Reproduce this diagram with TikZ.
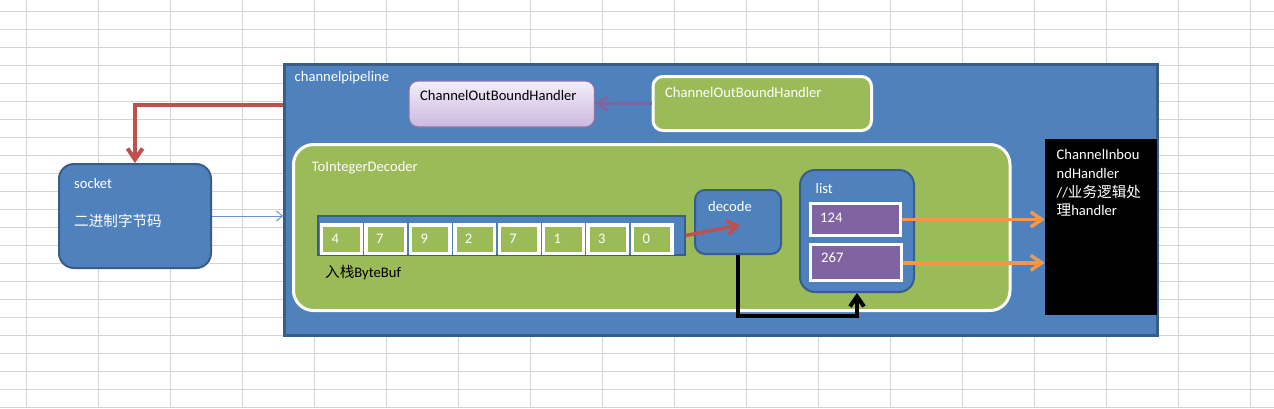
\documentclass[tikz,border=0pt]{standalone}
\usepackage{fontspec}
\setmainfont{Carlito}
\newfontfamily\cjk{Noto Sans CJK SC}
\usepackage{xcolor}
\usepackage{tikz}
\usetikzlibrary{arrows.meta}

\definecolor{pipeblue}{HTML}{4F81BD}
\definecolor{pipeedge}{HTML}{385D8A}
\definecolor{leafgreen}{HTML}{9BBB59}
\definecolor{bufpurple}{HTML}{8064A2}
\definecolor{outred}{HTML}{C0504D}
\definecolor{inorange}{HTML}{F79646}
\definecolor{lavtop}{HTML}{F3EEF8}
\definecolor{lavbot}{HTML}{CCB8E0}
\definecolor{lavedge}{HTML}{8A73AA}
\definecolor{gridgray}{HTML}{D4D4D4}
\definecolor{thinblue}{HTML}{6C95CB}

\tikzset{
	gridline/.style={gridgray, line width=1pt},
	bluebox/.style={draw=pipeedge, line width=2pt, fill=pipeblue, inner sep=0pt},
	greenbox/.style={draw=white, line width=3pt, fill=leafgreen, inner sep=0pt},
	cellbox/.style={draw=white, line width=3.3pt, fill=leafgreen, minimum width=39.6pt, minimum height=28.3pt,
		text width=19.6pt, inner xsep=10pt, inner ysep=0pt, align=left, text=white},
	listcell/.style={draw=white, line width=3pt, fill=bufpurple, inner sep=0pt},
	lbl/.style={anchor=base west, inner sep=0pt, text=white},
	barb/.style 2 args={-{Straight Barb[length=#1, width=#2]}},
}

\begin{document}
\begin{tikzpicture}[x=1pt, y=-1pt, font=\fontsize{14.6pt}{18.7pt}\selectfont]
		\fill[white] (0,0) rectangle (1274,408);
		\useasboundingbox (0,0) rectangle (1274,408);
		% sheet grid
		\foreach \x in {0,...,17}{
			\draw[gridline] (26.7+72*\x,0) -- (26.7+72*\x,408);
		}
		\foreach \y in {0,...,22}{
			\draw[gridline] (0,11.3+18*\y) -- (1274,11.3+18*\y);
		}
		
		\node[bluebox, rounded corners=15pt, minimum width=152pt, minimum height=104pt] (socket) at (135,216) {};
		\node[bluebox, line width=2.6pt, minimum width=873pt, minimum height=271pt] (pipe) at (721,200) {};
		
		\node[draw=lavedge, line width=1.2pt, top color=lavtop, bottom color=lavbot, rounded corners=9pt,
			minimum width=185.5pt, minimum height=46pt, inner sep=0pt] (outlav) at (501.75,104) {};
		\node[greenbox, rounded corners=10pt, minimum width=218.5pt, minimum height=54pt] (outgreen) at (762.25,103.5) {};
		\node[greenbox, rounded corners=20pt, minimum width=716.5pt, minimum height=166pt] (decoder) at (651.75,227.5) {};
		
		\node[bluebox, minimum width=367pt, minimum height=39pt] (buf) at (501,235.5) {};
		\foreach \v [count=\i from 0] in {4,7,9,2,7,1,3,0}{
			\node[cellbox] (c\i) at (341.5+44.4*\i,239.15) {\v};
		}
		
		\node[bluebox, rounded corners=10pt, minimum width=86pt, minimum height=64pt] (decode) at (738,222) {};
		\node[bluebox, rounded corners=15pt, minimum width=114pt, minimum height=122pt] (list) at (857,231) {};
		\node[listcell, minimum width=89.4pt, minimum height=31.4pt] (v124) at (855.5,219.5) {};
		\node[listcell, minimum width=90.4pt, minimum height=36pt] (v267) at (856,262.8) {};
		\node[fill=black, minimum width=112pt, minimum height=176pt, inner sep=0pt] (inbound) at (1101,227) {};
		
		% texts
		\node[lbl] (pipetxt) at (294.5,81) {channelpipeline};
		\node[lbl] (socktxt) at (74,188) {socket};
		\node[lbl] (bintxt) at (74,226) {\cjk 二进制字节码};
		\node[lbl, text=black] (lavtxt) at (420,100.5) {ChannelOutBoundHandler};
		\node[lbl] (greentxt) at (665,97.5) {ChannelOutBoundHandler};
		\node[lbl] (dectxt) at (311.7,171) {ToIntegerDecoder};
		\node[lbl, text=black] (buftxt) at (325,277) {{\cjk 入栈}ByteBuf};
		\node[lbl] (decodetxt) at (708,211) {decode};
		\node[lbl] (listtxt) at (815.5,193.3) {list};
		\node[lbl] (t124) at (820,222.3) {124};
		\node[lbl] (t267) at (821,262.3) {267};
		\node[lbl] (in1) at (1056.5,159.3) {ChannelInbou};
		\node[lbl] (in2) at (1056.5,178.3) {ndHandler};
		\node[lbl] (in3) at (1056.5,197.5) {//{\cjk 业务逻辑处}};
		\node[lbl] (in4) at (1056.5,215.7) {{\cjk 理}handler};
		
		% connectors
		\coordinate (dectip) at (740,225);
		\draw[outred, line width=4pt, barb={11pt}{15pt}] (pipe.west |- 0,105) -| (socket.north);
		\draw[thinblue, line width=1pt, barb={6pt}{10pt}] (socket.east) -- (socket.east -| pipe.west);
		\draw[bufpurple, line width=3pt, barb={10pt}{14pt}] (outgreen.west) -- (outgreen.west -| outlav.east);
		\draw[outred, line width=3.5pt, barb={10pt}{14pt}] (buf.east) -- (dectip);
		\draw[black, line width=4pt, barb={10pt}{14pt}] (decode.south) -- (decode.south |- 0,316) -| (list.south);
		\draw[inorange, line width=3.5pt, barb={11pt}{15pt}] (v124.east) -- (v124.east -| inbound.west);
		\draw[inorange, line width=3.5pt, barb={11pt}{15pt}] (v267.east) -- (v267.east -| inbound.west);
	\end{tikzpicture}
\end{document}
